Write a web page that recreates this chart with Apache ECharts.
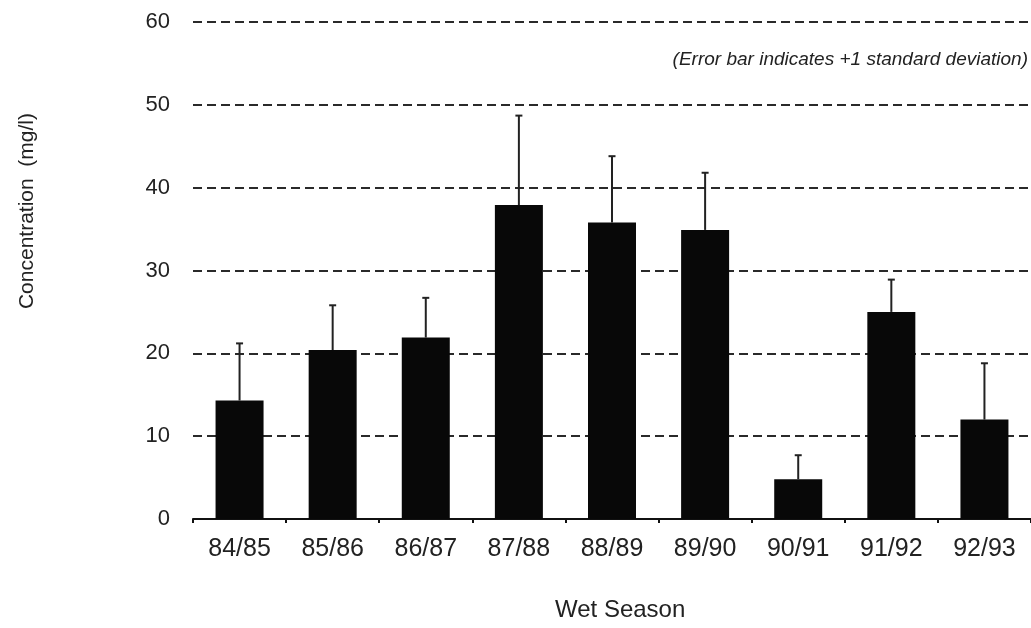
<!DOCTYPE html>
<html>
<head>
<meta charset="utf-8">
<script src="https://cdn.jsdelivr.net/npm/echarts@6/dist/echarts.min.js"></script>
<style>
html,body{margin:0;padding:0;background:#fff;}
#chart{width:1031px;height:628px;}
</style>
</head>
<body>
<div id="chart"></div>
<script>
const categories = ['84/85','85/86','86/87','87/88','88/89','89/90','90/91','91/92','92/93'];
const means = [14.3, 20.4, 21.9, 37.9, 35.8, 34.9, 4.8, 25.0, 12.0];
const errorTops = [21.2, 25.8, 26.7, 48.7, 43.8, 41.8, 7.7, 28.9, 18.8];
const yTicks = [0, 10, 20, 30, 40, 50, 60];

const chart = echarts.init(document.getElementById('chart'), null, {renderer: 'canvas'});
const font = '"Liberation Sans", Arial, sans-serif';

chart.setOption({
  animation: false,
  backgroundColor: '#ffffff',
  grid: {left: 193, top: 22, width: 844, bottom: 109, containLabel: false},
  xAxis: {
    type: 'category',
    data: categories,
    axisLine: {show: true, lineStyle: {color: '#111', width: 2}},
    axisTick: {show: true, length: 4, lineStyle: {color: '#111', width: 2}},
    axisLabel: {color: '#222', fontSize: 25, fontFamily: font, margin: 18},
    splitLine: {show: false}
  },
  yAxis: {
    type: 'value',
    min: yTicks[0],
    max: yTicks[yTicks.length - 1],
    interval: 10,
    axisLine: {show: false},
    axisTick: {show: false},
    axisLabel: {color: '#222', fontSize: 22, fontFamily: font, margin: 23},
    splitLine: {show: true, lineStyle: {color: '#2a2a2a', width: 2, type: [9, 5]}}
  },
  graphic: [
    {
      type: 'text',
      left: 17, top: 113,
      style: {text: 'Concentration  (mg/l)', fontSize: 21, fontFamily: font, fill: '#222'},
      rotation: Math.PI / 2
    },
    {
      type: 'text',
      right: 3, top: 50,
      style: {text: '(Error bar indicates +1 standard deviation)', fontSize: 19, fontStyle: 'italic', fontFamily: font, fill: '#222'}
    },
    {
      type: 'text',
      left: 555, top: 598,
      style: {text: 'Wet Season', fontSize: 24, fontFamily: font, fill: '#222'}
    }
  ],
  series: [
    {
      type: 'bar',
      data: means,
      barWidth: 48,
      itemStyle: {color: '#080808'},
      z: 3
    },
    {
      type: 'custom',
      data: categories.map((c, i) => [i, means[i], errorTops[i]]),
      z: 4,
      renderItem: function (params, api) {
        const base = api.coord([api.value(0), api.value(1)]);
        const top = api.coord([api.value(0), api.value(2)]);
        const half = 3.5;
        return {
          type: 'group',
          children: [
            {type: 'line', shape: {x1: base[0], y1: base[1], x2: top[0], y2: top[1]}, style: {stroke: '#222', lineWidth: 2}},
            {type: 'line', shape: {x1: top[0] - half, y1: top[1], x2: top[0] + half, y2: top[1]}, style: {stroke: '#222', lineWidth: 2}}
          ]
        };
      }
    }
  ]
});
</script>
</body>
</html>
